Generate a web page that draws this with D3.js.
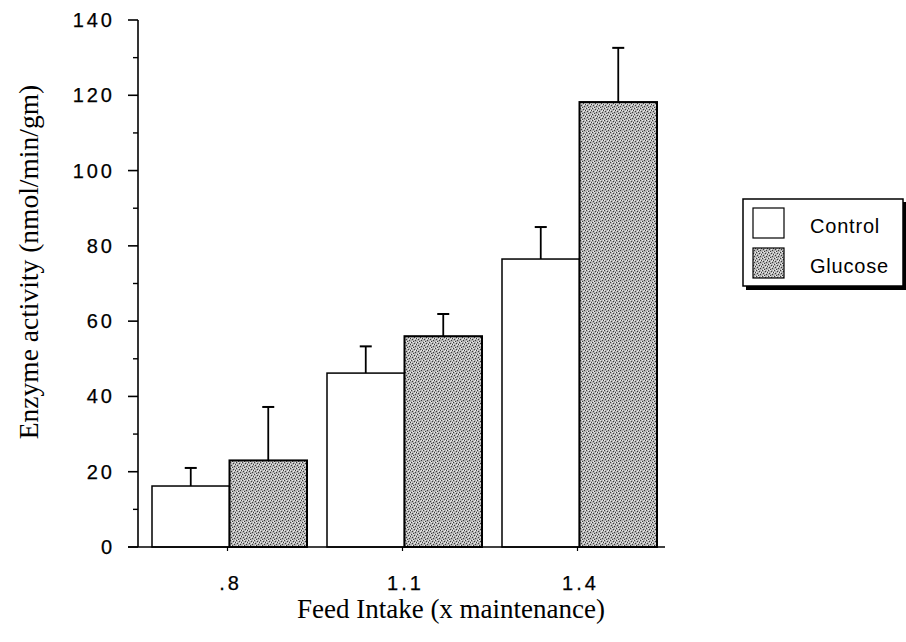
<!DOCTYPE html>
<html>
<head>
<meta charset="utf-8">
<script src="https://cdn.jsdelivr.net/npm/d3@7"></script>
<style>
  html, body { margin: 0; padding: 0; background: #fff; }
  svg { display: block; }
</style>
</head>
<body>
<svg id="chart" width="906" height="642"></svg>
<script>
// Feed intake levels (x maintenance)
const categories = [".8", "1.1", "1.4"];
const seriesNames = ["Control", "Glucose"];
// Enzyme activity means (nmol/min/gm)
const controlValues = [16.2, 46.2, 76.5];
const glucoseValues = [23.0, 56.0, 118.2];
// Upper end of the error bars
const controlErrTop = [21.0, 53.3, 85.0];
const glucoseErrTop = [37.2, 61.9, 132.6];
const yTicks = [0, 20, 40, 60, 80, 100, 120, 140];
const yMinorTicks = [10, 30, 50, 70, 90, 110, 130];

const svg = d3.select("#chart");

// Textured grey fill for the glucose bars
const defs = svg.append("defs");
const pat = defs.append("pattern")
  .attr("id", "stipple").attr("patternUnits", "userSpaceOnUse")
  .attr("width", 6).attr("height", 6);
pat.append("rect").attr("width", 6).attr("height", 6).attr("fill", "#b4b4b4");
[[0,0],[3,1],[1,3],[4,4],[5,2],[2,5]].forEach(([x, y]) =>
  pat.append("rect").attr("x", x).attr("y", y).attr("width", 1).attr("height", 1).attr("fill", "#3a3a3a"));
[[2,0],[5,0],[0,2],[3,3],[1,5],[4,2]].forEach(([x, y]) =>
  pat.append("rect").attr("x", x).attr("y", y).attr("width", 1).attr("height", 1).attr("fill", "#ececec"));

const x0 = d3.scaleBand().domain(categories).range([142, 667])
  .paddingInner(20 / 175).paddingOuter(10 / 175);
const x1 = d3.scaleBand().domain(seriesNames).range([0, x0.bandwidth()]);
const y = d3.scaleLinear().domain([0, 140]).range([547, 20]);

const axisX = 138;
const tickFont = "'Liberation Sans', Arial, Helvetica, sans-serif";
const serifFont = "'Liberation Serif', 'Times New Roman', Times, serif";

// Bars
const rows = categories.map((c, i) => ({
  cat: c,
  vals: [
    { s: "Control", v: controlValues[i], e: controlErrTop[i] },
    { s: "Glucose", v: glucoseValues[i], e: glucoseErrTop[i] }
  ]
}));

const groups = svg.append("g").selectAll("g").data(rows).join("g")
  .attr("transform", d => `translate(${x0(d.cat)},0)`);

// Error bars (upward only), drawn first so the bar outline sits on top
groups.selectAll("g.err").data(d => d.vals).join("g").attr("class", "err")
  .each(function(d) {
    const g = d3.select(this);
    const cx = x1(d.s) + x1.bandwidth() / 2;
    g.append("line").attr("x1", cx).attr("x2", cx)
      .attr("y1", y(d.v)).attr("y2", y(d.e))
      .attr("stroke", "#000").attr("stroke-width", 1.8);
    g.append("line").attr("x1", cx - 6).attr("x2", cx + 6)
      .attr("y1", y(d.e)).attr("y2", y(d.e))
      .attr("stroke", "#000").attr("stroke-width", 2);
  });

groups.selectAll("rect").data(d => d.vals).join("rect")
  .attr("x", d => x1(d.s))
  .attr("y", d => y(d.v))
  .attr("width", x1.bandwidth())
  .attr("height", d => y(0) - y(d.v))
  .attr("fill", d => d.s === "Control" ? "#fff" : "url(#stipple)")
  .attr("stroke", "#000")
  .attr("stroke-width", d => d.s === "Control" ? 1.5 : 2);

// Y axis
const yAxis = svg.append("g");
yAxis.append("line").attr("x1", axisX).attr("x2", axisX)
  .attr("y1", y(140)).attr("y2", y(0))
  .attr("stroke", "#000").attr("stroke-width", 1.6);
yAxis.selectAll("line.major").data(yTicks).join("line").attr("class", "major")
  .attr("x1", axisX - 10).attr("x2", axisX)
  .attr("y1", d => y(d)).attr("y2", d => y(d))
  .attr("stroke", "#000").attr("stroke-width", 1.6);
yAxis.selectAll("line.minor").data(yMinorTicks).join("line").attr("class", "minor")
  .attr("x1", axisX - 5).attr("x2", axisX)
  .attr("y1", d => y(d)).attr("y2", d => y(d))
  .attr("stroke", "#000").attr("stroke-width", 1.4);
yAxis.selectAll("text").data(yTicks).join("text")
  .attr("x", 115).attr("y", d => y(d) + 7)
  .attr("text-anchor", "end")
  .attr("font-family", tickFont).attr("font-size", 20)
  .attr("letter-spacing", 3)
  .attr("stroke", "#000").attr("stroke-width", 0.25)
  .text(d => d);

// X axis
const xAxis = svg.append("g");
xAxis.append("line").attr("x1", 128).attr("x2", 665)
  .attr("y1", y(0)).attr("y2", y(0))
  .attr("stroke", "#000").attr("stroke-width", 1.6);
xAxis.selectAll("line.tick").data(categories).join("line").attr("class", "tick")
  .attr("x1", d => x0(d) + x0.bandwidth() / 2 - 2).attr("x2", d => x0(d) + x0.bandwidth() / 2 - 2)
  .attr("y1", y(0)).attr("y2", y(0) + 4)
  .attr("stroke", "#000").attr("stroke-width", 1.2);
xAxis.selectAll("text").data(categories).join("text")
  .attr("x", d => x0(d) + x0.bandwidth() / 2 + 1)
  .attr("y", 590)
  .attr("text-anchor", "middle")
  .attr("font-family", tickFont).attr("font-size", 20)
  .attr("letter-spacing", 3)
  .attr("stroke", "#000").attr("stroke-width", 0.25)
  .text(d => d);

// Axis titles
svg.append("text")
  .attr("x", 451).attr("y", 618)
  .attr("text-anchor", "middle")
  .attr("font-family", serifFont).attr("font-size", 27)
  .text("Feed Intake (x maintenance)");
svg.append("text")
  .attr("transform", "translate(38,262) rotate(-90)")
  .attr("text-anchor", "middle")
  .attr("font-family", serifFont).attr("font-size", 27.5)
  .text("Enzyme activity (nmol/min/gm)");

// Legend with drop shadow
const legend = svg.append("g");
legend.append("rect").attr("x", 746).attr("y", 202).attr("width", 160).attr("height", 88)
  .attr("fill", "#000");
legend.append("rect").attr("x", 743).attr("y", 199).attr("width", 160).attr("height", 87)
  .attr("fill", "#fff").attr("stroke", "#000").attr("stroke-width", 1.5);
legend.selectAll("rect.sw").data(seriesNames).join("rect").attr("class", "sw")
  .attr("x", 753).attr("y", (d, i) => 208 + i * 40)
  .attr("width", 31).attr("height", 30)
  .attr("fill", d => d === "Control" ? "#fff" : "url(#stipple)")
  .attr("stroke", "#000").attr("stroke-width", 1.2);
legend.selectAll("text").data(seriesNames).join("text")
  .attr("x", 810).attr("y", (d, i) => 233 + i * 40)
  .attr("font-family", tickFont).attr("font-size", 20)
  .attr("letter-spacing", 0.8)
  .text(d => d);
</script>
</body>
</html>
